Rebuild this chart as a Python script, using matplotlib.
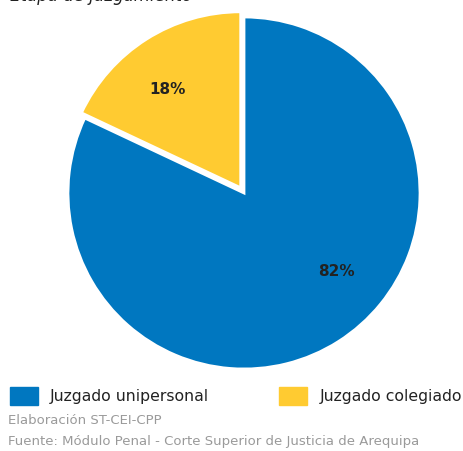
import matplotlib.pyplot as plt

categorias = ['Juzgado unipersonal', 'Juzgado colegiado']
valores = [82, 18]
etiquetas = ['82%', '18%']
colores = ['#0077C0', '#FFCB31']

fig = plt.figure(figsize=(4.64, 4.51), dpi=100)
W, H = 464, 451

# ejes del pie: centro (244,193) px, radio 176 px
cx, cy, r = 244, 193, 176
ax = fig.add_axes([(cx - r) / W, (H - cy - r) / H, 2 * r / W, 2 * r / H])
wedges, _ = ax.pie(valores, colors=colores, startangle=90, counterclock=False,
                   explode=[0, 0.035],
                   wedgeprops=dict(edgecolor='white', linewidth=2.0))
for w in wedges:
    w.set_clip_on(False)
ax.set_xlim(-1, 1)
ax.set_ylim(-1, 1)
ax.axis('off')

# etiquetas de porcentaje
ax.text((336 - cx) / r, (cy - 271) / r, etiquetas[0], ha='center', va='center',
        fontsize=11, fontweight='bold', color='#222222')
ax.text((168 - cx) / r, (cy - 89) / r, etiquetas[1], ha='center', va='center',
        fontsize=11, fontweight='bold', color='#222222')

# titulo (cortado arriba)
fig.text(10 / W, (H - 1) / H, 'Etapa de juzgamiento', fontsize=12, style='italic',
         color='#222222', va='baseline', ha='left')

# leyenda
pos_leyenda = [(10, 50), (279, 320)]
for (xs, xt), cat, col in zip(pos_leyenda, categorias, colores):
    fig.patches.append(plt.Rectangle((xs / W, (H - 405) / H), 28 / W, 18 / H,
                                     transform=fig.transFigure, color=col))
    fig.text(xt / W, (H - 396) / H, cat, fontsize=11.3, color='#222222',
             va='center', ha='left')

# pie de fuente
fig.text(8 / W, (H - 420) / H, 'Elaboración ST-CEI-CPP', fontsize=9.5,
         color='#9a9a9a', va='center', ha='left')
fig.text(8 / W, (H - 441) / H, 'Fuente: Módulo Penal - Corte Superior de Justicia de Arequipa',
         fontsize=9.5, color='#9a9a9a', va='center', ha='left')

fig.savefig('out.png', dpi=100)
